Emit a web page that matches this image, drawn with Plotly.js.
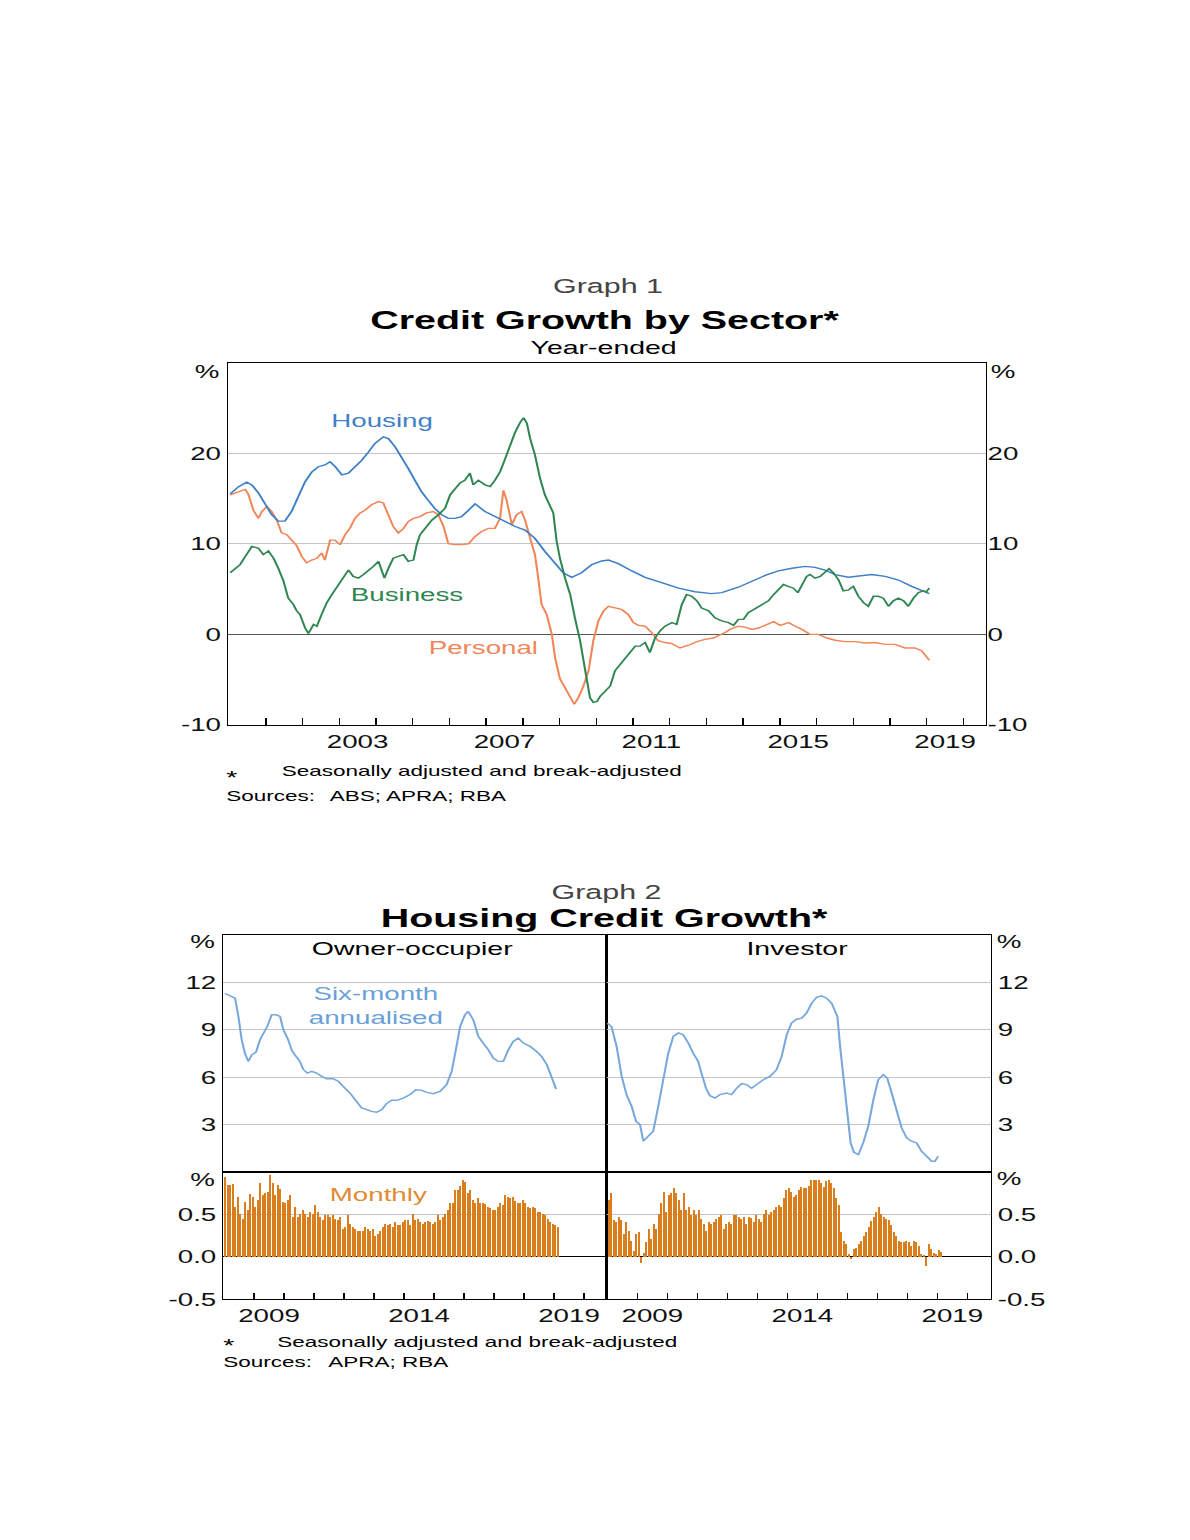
<!DOCTYPE html>
<html><head><meta charset="utf-8">
<script src="https://cdn.plot.ly/plotly-3.0.1.min.js"></script>
<style>
html,body{margin:0;padding:0;background:#fff;overflow:hidden;}
#wrap{width:794px;height:1540px;transform:scaleX(1.498741);transform-origin:0 0;}
#chart{width:794px;height:1540px;}
</style></head><body>
<div id="wrap"><div id="chart"></div></div>
<script>
// ---------------- Graph 1 data (decimal years, % year-ended) ----------------
const housingT = [2000.03,2000.26,2000.48,2000.62,2000.80,2000.98,2001.16,2001.34,2001.52,2001.70,2001.89,2002.07,2002.25,2002.43,2002.61,2002.75,2002.89,2003.07,2003.25,2003.43,2003.61,2003.79,2003.97,2004.20,2004.34,2004.52,2004.70,2004.88,2005.06,2005.24,2005.42,2005.60,2005.79,2005.97,2006.15,2006.33,2006.52,2006.70,2006.97,2007.24,2007.52,2007.79,2008.06,2008.33,2008.60,2008.88,2009.10,2009.33,2009.60,2009.88,2010.15,2010.33,2010.60,2010.97,2011.33,2011.78,2012.24,2012.69,2013.14,2013.42,2013.87,2014.24,2014.60,2014.96,2015.33,2015.69,2015.96,2016.23,2016.50,2016.87,2017.14,2017.50,2017.87,2018.23,2018.59,2018.96,2019.07];
const housingV = [15.5,16.3,16.8,16.5,15.6,14.5,13.2,12.5,12.5,13.55,15.2,16.85,17.9,18.5,18.7,19.05,18.5,17.6,17.8,18.5,19.2,20.1,21.06,21.8,21.6,20.7,19.6,18.3,17.0,15.75,14.8,13.9,13.2,12.8,12.8,13.0,13.7,14.4,13.55,13.0,12.45,11.9,11.5,10.6,9.16,7.9,6.8,6.3,6.8,7.7,8.1,8.2,7.8,7.0,6.3,5.7,5.1,4.7,4.5,4.6,5.2,5.86,6.5,7.0,7.3,7.5,7.4,7.1,6.6,6.3,6.4,6.6,6.4,6.0,5.3,4.7,4.5];

const personalT = [2000.03,2000.26,2000.44,2000.53,2000.66,2000.80,2000.89,2001.03,2001.16,2001.30,2001.43,2001.57,2001.70,2001.84,2001.98,2002.11,2002.25,2002.39,2002.52,2002.61,2002.75,2002.88,2003.02,2003.16,2003.29,2003.43,2003.57,2003.70,2003.88,2004.07,2004.20,2004.34,2004.47,2004.61,2004.75,2004.88,2005.02,2005.20,2005.38,2005.56,2005.70,2005.84,2005.97,2006.15,2006.33,2006.52,2006.70,2006.88,2007.06,2007.24,2007.38,2007.47,2007.56,2007.70,2007.83,2007.97,2008.06,2008.20,2008.33,2008.42,2008.51,2008.65,2008.79,2008.88,2009.01,2009.15,2009.29,2009.40,2009.51,2009.65,2009.79,2009.92,2010.06,2010.20,2010.33,2010.51,2010.69,2010.87,2011.01,2011.15,2011.33,2011.51,2011.69,2011.87,2012.05,2012.28,2012.51,2012.74,2012.96,2013.19,2013.42,2013.51,2013.64,2013.87,2014.05,2014.24,2014.42,2014.60,2014.83,2015.01,2015.24,2015.42,2015.60,2015.82,2016.05,2016.28,2016.51,2016.78,2017.05,2017.32,2017.59,2017.87,2018.14,2018.41,2018.68,2018.86,2018.99,2019.07];
const personalV = [15.4,15.75,16.0,15.4,13.7,12.8,13.55,14.1,13.55,12.6,11.2,11.0,10.4,9.8,8.6,7.9,8.2,8.4,8.97,8.2,10.4,10.4,9.9,11.0,11.7,12.8,13.4,13.7,14.3,14.65,14.5,13.2,11.9,11.2,11.7,12.45,12.8,13.0,13.4,13.55,13.2,11.9,10.0,9.9,9.9,10.0,10.8,11.35,11.7,11.7,12.8,15.9,14.8,12.1,13.2,13.55,12.6,10.6,8.8,6.2,3.3,2.2,0,-2.6,-4.9,-5.9,-7.0,-7.7,-7.0,-5.7,-4.0,-0.7,1.5,2.6,3.1,2.9,2.75,2.2,1.3,1.0,0.9,0.2,-0.7,-0.9,-1.0,-1.5,-1.2,-0.8,-0.55,-0.4,0,0.2,0.55,0.9,0.8,0.55,0.7,1.0,1.4,1.0,1.3,0.9,0.55,0,0,-0.4,-0.65,-0.8,-0.8,-0.95,-0.9,-1.1,-1.1,-1.5,-1.5,-1.8,-2.4,-2.86];

const businessT = [2000.03,2000.16,2000.30,2000.44,2000.62,2000.80,2000.93,2001.07,2001.21,2001.34,2001.48,2001.61,2001.75,2001.84,2001.93,2002.07,2002.16,2002.30,2002.39,2002.52,2002.66,2002.80,2002.98,2003.11,2003.25,2003.38,2003.52,2003.66,2003.79,2003.93,2004.07,2004.16,2004.23,2004.34,2004.47,2004.61,2004.75,2004.88,2005.02,2005.11,2005.20,2005.34,2005.52,2005.70,2005.88,2006.02,2006.15,2006.29,2006.42,2006.56,2006.65,2006.79,2006.97,2007.11,2007.24,2007.38,2007.52,2007.65,2007.79,2007.93,2008.02,2008.11,2008.20,2008.33,2008.47,2008.60,2008.74,2008.83,2008.92,2009.01,2009.15,2009.29,2009.42,2009.56,2009.70,2009.83,2009.92,2010.02,2010.11,2010.24,2010.38,2010.51,2010.65,2010.78,2010.92,2011.06,2011.19,2011.33,2011.46,2011.60,2011.74,2011.87,2012.06,2012.19,2012.33,2012.46,2012.60,2012.74,2012.87,2013.06,2013.24,2013.42,2013.60,2013.74,2013.87,2014.01,2014.14,2014.28,2014.42,2014.55,2014.69,2014.83,2014.96,2015.10,2015.23,2015.37,2015.49,2015.60,2015.73,2015.82,2015.96,2016.10,2016.23,2016.34,2016.46,2016.60,2016.73,2016.87,2017.00,2017.14,2017.28,2017.41,2017.55,2017.68,2017.82,2017.96,2018.09,2018.23,2018.37,2018.50,2018.64,2018.77,2018.91,2018.99,2019.07];
const businessV = [6.8,7.3,7.7,8.6,9.7,9.5,8.8,9.2,8.4,7.3,5.9,4.0,3.3,2.6,2.2,0.7,0.1,1.1,0.9,2.2,3.5,4.4,5.5,6.4,7.1,6.4,6.2,6.6,7.0,7.5,8.06,7.0,6.2,7.3,8.4,8.6,8.8,8.06,8.2,9.9,11.0,11.7,12.6,13.2,13.9,15.4,16.1,16.7,17.0,17.8,16.5,17.0,16.5,16.3,17.0,17.95,19.4,20.9,22.3,23.4,23.9,23.3,21.6,19.8,17.2,15.4,14.3,13.4,10.3,8.4,6.2,4.4,1.8,-0.7,-4.0,-7.0,-7.5,-7.4,-6.8,-6.2,-5.7,-4.0,-3.3,-2.6,-2.0,-1.3,-1.3,-0.9,-2.0,-0.4,0.4,0.9,1.3,1.1,3.3,4.4,4.2,3.7,2.9,2.6,1.8,1.5,1.3,1.0,1.65,1.65,2.4,2.75,3.1,3.4,3.7,4.4,4.9,5.5,5.3,5.1,4.6,5.5,6.4,6.6,6.2,6.4,6.8,7.25,6.8,6.0,4.8,4.9,5.3,4.2,3.5,3.1,4.2,4.2,4.0,3.1,3.7,4.0,3.7,3.1,4.0,4.6,4.8,4.7,5.1];

const g1YearLabels = ['2003','2007','2011','2015','2019'];
const g1FirstTickYear = 2001, g1LastTickYear = 2020;
const g1TickVals = [-10, 0, 10, 20];
const g1TickText = ['-10', '0', '10', '20'];

// ---------------- Graph 2 data ----------------
const ownerT = [2008.03,2008.26,2008.37,2008.48,2008.59,2008.70,2008.81,2008.92,2009.07,2009.20,2009.31,2009.44,2009.59,2009.73,2009.87,2009.98,2010.14,2010.26,2010.37,2010.53,2010.64,2010.78,2010.92,2011.09,2011.26,2011.42,2011.64,2011.81,2011.98,2012.20,2012.37,2012.59,2012.76,2012.92,2013.09,2013.26,2013.42,2013.59,2013.76,2013.98,2014.20,2014.40,2014.59,2014.76,2014.98,2015.20,2015.42,2015.59,2015.73,2015.87,2016.03,2016.14,2016.31,2016.48,2016.64,2016.81,2016.98,2017.14,2017.31,2017.48,2017.64,2017.81,2017.98,2018.20,2018.42,2018.59,2018.76,2018.92,2019.07];
const ownerV = [11.3,11.06,11.0,9.84,8.37,7.5,7.0,7.4,7.6,8.37,8.8,9.2,9.95,9.95,9.84,9.0,8.37,7.7,7.4,7.0,6.5,6.26,6.37,6.26,6.05,5.9,5.9,5.74,5.4,5.0,4.58,4.05,3.95,3.84,3.78,3.95,4.33,4.54,4.54,4.68,4.9,5.2,5.17,5.04,4.96,5.1,5.53,6.37,7.74,9.2,9.95,10.16,9.63,8.58,8.16,7.74,7.2,7.0,7.0,7.74,8.26,8.47,8.16,7.95,7.63,7.3,6.8,6.05,5.25];

const investorT = [2008.00,2008.14,2008.31,2008.48,2008.64,2008.81,2008.96,2009.09,2009.20,2009.37,2009.53,2009.70,2009.87,2010.03,2010.20,2010.37,2010.53,2010.70,2010.87,2011.03,2011.14,2011.29,2011.42,2011.59,2011.76,2011.98,2012.14,2012.31,2012.48,2012.64,2012.81,2012.98,2013.20,2013.42,2013.64,2013.81,2013.98,2014.14,2014.31,2014.48,2014.64,2014.81,2014.98,2015.14,2015.31,2015.48,2015.59,2015.67,2015.76,2015.87,2015.98,2016.11,2016.22,2016.37,2016.53,2016.70,2016.87,2017.03,2017.20,2017.33,2017.48,2017.64,2017.81,2017.98,2018.14,2018.31,2018.48,2018.64,2018.81,2018.92,2019.03];
const investorV = [9.42,9.2,7.95,6.05,4.9,4.16,3.2,3.0,1.95,2.26,2.58,4.16,6.05,7.5,8.58,8.8,8.68,8.16,7.5,7.0,6.26,5.3,4.83,4.68,4.9,5.0,4.9,5.3,5.6,5.53,5.3,5.53,5.84,6.05,6.47,7.3,8.68,9.42,9.67,9.74,10.05,10.68,11.06,11.15,11.0,10.68,10.26,9.84,7.95,5.84,3.74,1.84,1.25,1.1,1.84,2.9,4.58,5.84,6.16,5.95,5.0,3.95,2.79,2.16,1.95,1.84,1.3,1.0,0.68,0.68,1.0];

// Monthly growth, starting January 2008
const monthlyStartYear = 2008;
const ownerMonthly = [0.94,0.85,0.85,0.86,0.59,0.70,0.50,0.45,0.65,0.55,
 0.74,0.70,0.59,0.67,0.87,0.73,0.75,0.77,0.96,0.87,
 0.73,0.85,0.80,0.65,0.63,0.67,0.73,0.47,0.59,0.47,
 0.50,0.55,0.50,0.47,0.53,0.50,0.61,0.53,0.47,0.43,
 0.49,0.49,0.47,0.49,0.45,0.43,0.47,0.33,0.35,0.49,
 0.39,0.35,0.33,0.31,0.31,0.31,0.35,0.33,0.31,0.33,
 0.25,0.27,0.31,0.35,0.39,0.37,0.39,0.35,0.41,0.37,
 0.37,0.41,0.43,0.43,0.37,0.50,0.43,0.45,0.41,0.39,
 0.41,0.42,0.41,0.39,0.41,0.49,0.43,0.47,0.50,0.55,
 0.63,0.64,0.79,0.79,0.83,0.90,0.88,0.75,0.79,0.67,
 0.64,0.69,0.64,0.63,0.62,0.59,0.57,0.55,0.55,0.59,
 0.63,0.61,0.73,0.70,0.69,0.71,0.66,0.63,0.64,0.67,
 0.63,0.59,0.57,0.59,0.57,0.53,0.53,0.50,0.49,0.45,
 0.41,0.39,0.37,0.35];
const investorMonthly = [0.67,0.75,0.43,0.41,0.47,0.43,0.27,0.41,0.31,0.19,
 0.07,0.27,0.29,-0.07,0.05,0.17,0.33,0.21,0.39,0.33,
 0.51,0.63,0.77,0.53,0.73,0.75,0.81,0.75,0.67,0.55,
 0.75,0.55,0.59,0.49,0.55,0.49,0.55,0.45,0.39,0.31,
 0.41,0.39,0.41,0.45,0.47,0.49,0.33,0.39,0.41,0.39,
 0.49,0.49,0.47,0.45,0.47,0.39,0.47,0.46,0.41,0.49,
 0.45,0.41,0.51,0.55,0.49,0.53,0.55,0.59,0.61,0.59,
 0.69,0.79,0.81,0.77,0.71,0.73,0.79,0.82,0.81,0.81,
 0.83,0.91,0.91,0.91,0.91,0.87,0.82,0.89,0.91,0.87,
 0.81,0.69,0.61,0.29,0.19,0.15,0.03,-0.03,0.09,0.11,
 0.15,0.19,0.25,0.29,0.35,0.42,0.47,0.53,0.59,0.51,
 0.47,0.45,0.43,0.37,0.29,0.25,0.19,0.18,0.17,0.19,
 0.17,0.13,0.19,0.17,0.13,0.03,0.02,-0.11,0.15,0.09,
 0.05,0.03,0.08,0.06];

const g2YearLabels = ['2009','2014','2019'];
const g2FirstTickYear = 2009, g2LastTickYear = 2020;
const g2TopTickVals = [3, 6, 9, 12];
const g2TopTickText = ['3', '6', '9', '12'];
const g2BotTickVals = [-0.5, 0, 0.5];
const g2BotTickText = ['-0.5', '0.0', '0.5'];

// ---------------- styling ----------------
const FONT = 'Liberation Sans, Arial, Helvetica, sans-serif';
const TICKFONT = {family: FONT, size: 18.5, color: '#111'};
const C_HOUSING = '#3f80c6', C_BUSINESS = '#2f8650', C_PERSONAL = '#f0865a';
const C_SIX = '#78a8dc', C_BAR = '#da7d1d';
const GRID = '#c4c4c4';

const midYear = labels => labels.map(l => Number(l) + 0.5);
const yearStarts = (a, b) => Array.from({length: b - a + 1}, (_, i) => a + i);
const monthCentres = (startYear, n) => Array.from({length: n}, (_, i) => startYear + (i + 0.5) / 12);

// domains (fractions of the figure)
const G1X = [0.19160, 0.82857], G1Y = [0.52922, 0.76461];
const G2XL = [0.18765, 0.50983], G2XR = [0.50983, 0.83252];
const G2YT = [0.23896, 0.39286], G2YB = [0.15630, 0.23896];
const G1R = [1999.97, 2020.615];
const G2RL = [2007.977, 2020.757], G2RR = [2007.98, 2020.78];

const frameAx = (extra) => Object.assign({
  showgrid: false, zeroline: false, showline: true, linecolor: '#000', linewidth: 1,
  mirror: true, ticks: '', showticklabels: false, fixedrange: true
}, extra);

// x axis with labels centred in the year and small inside ticks at year boundaries
const yearAx = (domain, anchor, range, labels, first, last, ticklen) => frameAx({
  domain, anchor, range, tickmode: 'array', tickvals: midYear(labels), ticktext: labels,
  showticklabels: true, ticks: '', tickfont: TICKFONT,
  minor: {tickmode: 'array', tickvals: yearStarts(first, last), ticks: 'inside', ticklen, tickwidth: 1, tickcolor: '#000', showgrid: false}
});

const traces = [
  {x: personalT, y: personalV, xaxis: 'x', yaxis: 'y', type: 'scatter', mode: 'lines', line: {color: C_PERSONAL, width: 1.4}, hoverinfo: 'skip'},
  {x: housingT, y: housingV, xaxis: 'x', yaxis: 'y', type: 'scatter', mode: 'lines', line: {color: C_HOUSING, width: 1.4}, hoverinfo: 'skip'},
  // business plotted against the right-hand axis (identical scale)
  {x: businessT, y: businessV, xaxis: 'x', yaxis: 'y2', type: 'scatter', mode: 'lines', line: {color: C_BUSINESS, width: 1.4}, hoverinfo: 'skip'},
  {x: ownerT, y: ownerV, xaxis: 'x3', yaxis: 'y3', type: 'scatter', mode: 'lines', line: {color: C_SIX, width: 1.4}, hoverinfo: 'skip'},
  {x: investorT, y: investorV, xaxis: 'x4', yaxis: 'y4', type: 'scatter', mode: 'lines', line: {color: C_SIX, width: 1.4}, hoverinfo: 'skip'},
  {x: monthCentres(monthlyStartYear, ownerMonthly.length), y: ownerMonthly, xaxis: 'x5', yaxis: 'y5', type: 'bar',
   width: 0.064, marker: {color: C_BAR, line: {width: 0}}, hoverinfo: 'skip'},
  {x: monthCentres(monthlyStartYear, investorMonthly.length), y: investorMonthly, xaxis: 'x7', yaxis: 'y6', type: 'bar',
   width: 0.064, marker: {color: C_BAR, line: {width: 0}}, hoverinfo: 'skip'}
];

const ann = (text, x, y, opts) => Object.assign({
  text, x, y, xref: 'paper', yref: 'paper', showarrow: false,
  xanchor: 'center', yanchor: 'middle', font: {family: FONT, size: 18.5, color: '#000'}
}, opts);
const py = Y => 1 - Y / 1540;   // page pixel row -> paper fraction
const px = X => X / 1190;       // page pixel column -> paper fraction
const NOTE = {family: FONT, size: 15, color: '#000'};
const STAR = {family: FONT, size: 19, color: '#000'};

const annotations = [
  ann('Graph 1', px(608), py(286), {font: {family: FONT, size: 20.3, color: '#444'}}),
  ann('<b>Credit Growth by Sector*</b>', px(604), py(319.5), {font: {family: FONT, size: 26.3, color: '#000'}}),
  ann('Year-ended', px(604.5), py(347), {font: {family: FONT, size: 19, color: '#000'}}),
  ann('Housing', 2004.18, 23.57, {xref: 'x', yref: 'y', font: {family: FONT, size: 18.5, color: C_HOUSING}}),
  ann('Business', 2004.84, 4.36, {xref: 'x', yref: 'y', font: {family: FONT, size: 18.5, color: C_BUSINESS}}),
  ann('Personal', 2006.94, -1.5, {xref: 'x', yref: 'y', font: {family: FONT, size: 18.5, color: C_PERSONAL}}),
  ann('%', px(222), 28.96, {yref: 'y', xanchor: 'right', font: TICKFONT}),
  ann('%', px(988), 28.96, {yref: 'y', xanchor: 'left', font: TICKFONT}),
  ann('*', px(224), py(777), {xanchor: 'left', font: STAR}),
  ann('Seasonally adjusted and break-adjusted', px(279), py(770), {xanchor: 'left', font: NOTE}),
  ann('Sources:', px(224), py(796), {xanchor: 'left', font: NOTE}),
  ann('ABS; APRA; RBA', px(326.7), py(796), {xanchor: 'left', font: NOTE}),

  ann('Graph 2', px(606.5), py(892), {font: {family: FONT, size: 20.3, color: '#444'}}),
  ann('<b>Housing Credit Growth*</b>', px(605), py(918.3), {font: {family: FONT, size: 26.3, color: '#000'}}),
  ann('Owner-occupier', px(413.3), py(948.3), {font: {family: FONT, size: 19, color: '#000'}}),
  ann('Investor', px(796.7), py(948.3), {font: {family: FONT, size: 19, color: '#000'}}),
  ann('Six-month<br>annualised', 2013.06, 10.52, {xref: 'x3', yref: 'y3', font: {family: FONT, size: 18.5, color: '#6a9fd8'}}),
  ann('Monthly', 2013.16, 0.733, {xref: 'x5', yref: 'y5', font: {family: FONT, size: 18.5, color: '#e08b35'}}),
  ann('%', px(216.7), 14.58, {yref: 'y3', xanchor: 'right', font: TICKFONT}),
  ann('%', px(993), 14.58, {yref: 'y4', xanchor: 'left', font: TICKFONT}),
  ann('%', px(216.7), 0.913, {yref: 'y5', xanchor: 'right', font: TICKFONT}),
  ann('%', px(993), 0.92, {yref: 'y6', xanchor: 'left', font: TICKFONT}),
  ann('*', px(221), py(1345), {xanchor: 'left', font: STAR}),
  ann('Seasonally adjusted and break-adjusted', px(275), py(1341), {xanchor: 'left', font: NOTE}),
  ann('Sources:', px(220), py(1361.5), {xanchor: 'left', font: NOTE}),
  ann('APRA; RBA', px(325), py(1361.5), {xanchor: 'left', font: NOTE})
];

const layout = {
  width: 794, height: 1540, margin: {l: 0, r: 0, t: 0, b: 0},
  paper_bgcolor: '#fff', plot_bgcolor: '#fff', showlegend: false, bargap: 0,
  font: {family: FONT, size: 18.5, color: '#000'},
  // ----- Graph 1 -----
  xaxis: yearAx(G1X, 'y', G1R, g1YearLabels, g1FirstTickYear, g1LastTickYear, 7),
  yaxis: {domain: G1Y, anchor: 'x', range: [-10, 30], tickmode: 'array', tickvals: g1TickVals, ticktext: g1TickText,
    ticks: '', showgrid: true, gridcolor: GRID, gridwidth: 1, zeroline: true, zerolinecolor: '#555', zerolinewidth: 1,
    showline: true, linecolor: '#000', linewidth: 1, mirror: true, tickfont: TICKFONT, fixedrange: true},
  yaxis2: {overlaying: 'y', anchor: 'x', side: 'right', range: [-10, 30], tickmode: 'array', tickvals: g1TickVals, ticktext: g1TickText,
    ticks: '', showgrid: false, zeroline: false, showline: false, tickfont: TICKFONT, fixedrange: true},
  // ----- Graph 2 top panels -----
  xaxis3: frameAx({domain: G2XL, anchor: 'y3', range: G2RL}),
  yaxis3: {domain: G2YT, anchor: 'x3', range: [0, 15], tickmode: 'array', tickvals: g2TopTickVals, ticktext: g2TopTickText,
    ticks: '', showgrid: true, gridcolor: GRID, zeroline: false, showline: true, linecolor: '#000', linewidth: 1, mirror: true,
    tickfont: TICKFONT, fixedrange: true},
  xaxis4: frameAx({domain: G2XR, anchor: 'y4', range: G2RR}),
  yaxis4: {domain: G2YT, anchor: 'x4', side: 'right', range: [0, 15], tickmode: 'array', tickvals: g2TopTickVals, ticktext: g2TopTickText,
    ticks: '', showgrid: true, gridcolor: GRID, zeroline: false, showline: true, linecolor: '#000', linewidth: 1, mirror: true,
    tickfont: TICKFONT, fixedrange: true},
  // ----- Graph 2 bottom panels -----
  xaxis5: yearAx(G2XL, 'y5', G2RL, g2YearLabels, g2FirstTickYear, g2LastTickYear, 6),
  yaxis5: {domain: G2YB, anchor: 'x5', range: [-0.5, 1.0], tickmode: 'array', tickvals: g2BotTickVals, ticktext: g2BotTickText,
    ticks: '', showgrid: true, gridcolor: GRID, zeroline: true, zerolinecolor: '#000', zerolinewidth: 1,
    showline: true, linecolor: '#000', linewidth: 1, mirror: true, tickfont: TICKFONT, fixedrange: true},
  xaxis7: yearAx(G2XR, 'y6', G2RR, g2YearLabels, g2FirstTickYear, g2LastTickYear, 6),
  yaxis6: {domain: G2YB, anchor: 'x7', side: 'right', range: [-0.5, 1.0], tickmode: 'array', tickvals: g2BotTickVals, ticktext: g2BotTickText,
    ticks: '', showgrid: true, gridcolor: GRID, zeroline: true, zerolinecolor: '#000', zerolinewidth: 1,
    showline: true, linecolor: '#000', linewidth: 1, mirror: true, tickfont: TICKFONT, fixedrange: true},
  annotations
};

Plotly.newPlot('chart', traces, layout, {staticPlot: true, displayModeBar: false});
</script></body></html>
